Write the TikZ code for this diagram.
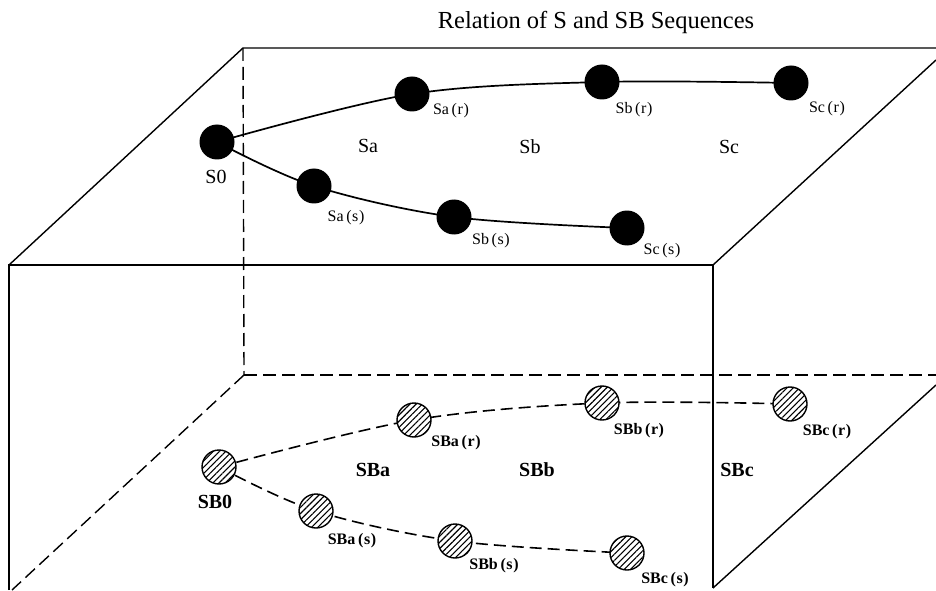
\documentclass[tikz,border=0pt]{standalone}
\usepackage{fontspec}
\setmainfont{Liberation Serif}
\usetikzlibrary{patterns.meta,backgrounds}
\tikzset{
  edge/.style={line width=1.4pt},
  hidden/.style={line width=1.4pt, dash pattern=on 13pt off 6pt},
  snode/.style={circle, fill=black, minimum size=35pt, inner sep=0pt},
  sbnode/.style={circle, draw=black, line width=1.4pt, minimum size=34pt, inner sep=0pt,
    preaction={fill=white}, pattern={Lines[angle=45,distance=4.4pt,line width=1.1pt]}},
  seqline/.style={line width=1.7pt},
  seqdash/.style={line width=1.6pt, dash pattern=on 12pt off 6pt},
  smalllab/.style={font=\fontsize{16}{16}\selectfont, inner sep=0pt},
  smallbold/.style={font=\fontsize{16}{16}\selectfont\bfseries, inner sep=0pt},
  region/.style={font=\fontsize{20}{20}\selectfont, inner sep=0pt},
  regionbold/.style={font=\fontsize{20}{20}\selectfont\bfseries, inner sep=0pt},
  titlelab/.style={font=\fontsize{24.5}{25}\selectfont, inner sep=0pt}
}
\newcommand{\pr}[1]{\,(\kern0.6pt #1\kern0.6pt)}
\begin{document}
\begin{tikzpicture}[x=1pt,y=1pt]
\useasboundingbox (0,0) rectangle (936,590);
% box corners
\coordinate (ftl) at (9,325);
\coordinate (ftr) at (713,325);
\coordinate (fbl) at (9,0);
\coordinate (fbr) at (713,2);
\coordinate (btl) at (243,542);
\coordinate (btr) at (936,542);
\coordinate (trd) at (936,530);
\coordinate (bbl) at (244,215);
\coordinate (bbr) at (936,215);
\coordinate (bld) at (12,0);
\coordinate (brd) at (936,205);

% title
\node[titlelab] (title) at (596,568) {Relation of S and SB Sequences};

% S nodes
\node[snode] (S0)  at (217,448) {};
\node[snode] (Sar) at (412,496) {};
\node[snode] (Sbr) at (602,508) {};
\node[snode] (Scr) at (791,507) {};
\node[snode] (Sas) at (314,404) {};
\node[snode] (Sbs) at (454,373) {};
\node[snode] (Scs) at (627,362) {};

% SB nodes
\node[sbnode] (SB0)  at (219,123) {};
\node[sbnode] (SBar) at (414,170) {};
\node[sbnode] (SBbr) at (602,187) {};
\node[sbnode] (SBcr) at (790,186) {};
\node[sbnode] (SBas) at (316,79) {};
\node[sbnode] (SBbs) at (455,49) {};
\node[sbnode] (SBcs) at (627,37) {};

% labels S
\node[region] (lS0) at (216,413) {S0};
\node[smalllab] (lSar) at (451,479) {Sa\pr{r}};
\node[smalllab] (lSbr) at (634,480) {Sb\pr{r}};
\node[smalllab] (lScr) at (827,481) {Sc\pr{r}};
\node[smalllab] (lSas) at (346,372) {Sa\pr{s}};
\node[smalllab] (lSbs) at (491,349) {Sb\pr{s}};
\node[smalllab] (lScs) at (662,339) {Sc\pr{s}};
\node[region] (rSa) at (368,444) {Sa};
\node[region] (rSb) at (530,443) {Sb};
\node[region] (rSc) at (729,443) {Sc};

% labels SB
\node[regionbold] (lSB0) at (215,88) {SB0};
\node[smallbold] (lSBar) at (456,147) {SBa\pr{r}};
\node[smallbold] (lSBbr) at (639,159) {SBb\pr{r}};
\node[smallbold] (lSBcr) at (827,158) {SBc\pr{r}};
\node[smallbold] (lSBas) at (352,49) {SBa\pr{s}};
\node[smallbold] (lSBbs) at (494,24) {SBb\pr{s}};
\node[smallbold] (lSBcs) at (665,10) {SBc\pr{s}};
\node[regionbold] (rSBa) at (373,120) {SBa};
\node[regionbold] (rSBb) at (537,120) {SBb};
\node[regionbold] (rSBc) at (737,120) {SBc};

\begin{scope}[on background layer]
  % box
  \draw[edge] (fbl) -- (ftl) -- (ftr) -- (fbr);
  \draw[edge] (ftl) -- (btl) -- (btr);
  \draw[edge] (ftr) -- (trd);
  \draw[edge] (fbr) -- (brd);
  \draw[hidden] (btl) -- (bbl);
  \draw[hidden] (bbl) -- (bbr);
  \draw[hidden] (bbl) -- (bld);
  % sequences
  \draw[seqline] plot[smooth, tension=0.55] coordinates {(S0.center) (Sar.center) (Sbr.center) (Scr.center)};
  \draw[seqline] plot[smooth, tension=0.55] coordinates {(S0.center) (Sas.center) (Sbs.center) (Scs.center)};
  \draw[seqdash] plot[smooth, tension=0.55] coordinates {(SB0.center) (SBar.center) (SBbr.center) (SBcr.center)};
  \draw[seqdash] plot[smooth, tension=0.55] coordinates {(SB0.center) (SBas.center) (SBbs.center) (SBcs.center)};
\end{scope}
\end{tikzpicture}
\end{document}
